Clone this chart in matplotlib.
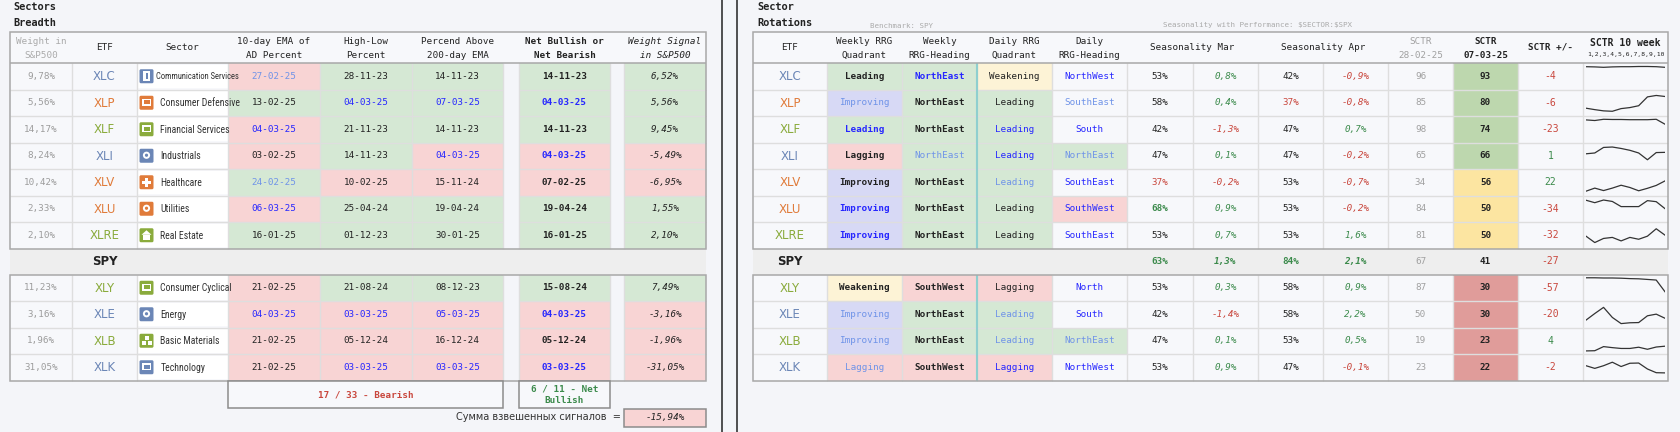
import matplotlib
matplotlib.use('Agg')
import matplotlib.pyplot as plt
from matplotlib.patches import Rectangle, FancyBboxPatch, Circle, Polygon
from matplotlib import font_manager
from matplotlib.font_manager import FontProperties

# ---------------- data ----------------
etfs = ['XLC', 'XLP', 'XLF', 'XLI', 'XLV', 'XLU', 'XLRE', 'XLY', 'XLE', 'XLB', 'XLK']
sectors = ['Communication Services', 'Consumer Defensive', 'Financial Services', 'Industrials',
           'Healthcare', 'Utilities', 'Real Estate', 'Consumer Cyclical', 'Energy',
           'Basic Materials', 'Technology']
weights = [9.78, 5.56, 14.17, 8.24, 10.42, 2.33, 2.10, 11.23, 3.16, 1.96, 31.05]

ema_dates = ['27-02-25', '13-02-25', '04-03-25', '03-02-25', '24-02-25', '06-03-25', '16-01-25',
             '21-02-25', '04-03-25', '21-02-25', '21-02-25']
ema_bull = [0, 1, 0, 0, 1, 0, 1, 0, 0, 0, 0]
hl_dates = ['28-11-23', '04-03-25', '21-11-23', '14-11-23', '10-02-25', '25-04-24', '01-12-23',
            '21-08-24', '03-03-25', '05-12-24', '03-03-25']
hl_bull = [1, 1, 1, 1, 0, 1, 1, 1, 0, 0, 0]
pa_dates = ['14-11-23', '07-03-25', '14-11-23', '04-03-25', '15-11-24', '19-04-24', '30-01-25',
            '08-12-23', '05-03-25', '16-12-24', '03-03-25']
pa_bull = [1, 1, 1, 0, 0, 1, 1, 1, 0, 0, 0]
net_dates = ['14-11-23', '04-03-25', '14-11-23', '04-03-25', '07-02-25', '19-04-24', '16-01-25',
             '15-08-24', '04-03-25', '05-12-24', '03-03-25']

weekly_quad = ['Leading', 'Improving', 'Leading', 'Lagging', 'Improving', 'Improving', 'Improving',
               'Weakening', 'Improving', 'Improving', 'Lagging']
weekly_head = ['NorthEast', 'NorthEast', 'NorthEast', 'NorthEast', 'NorthEast', 'NorthEast',
               'NorthEast', 'SouthWest', 'NorthEast', 'NorthEast', 'SouthWest']
daily_quad = ['Weakening', 'Leading', 'Leading', 'Leading', 'Leading', 'Leading', 'Leading',
              'Lagging', 'Leading', 'Leading', 'Lagging']
daily_head = ['NorthWest', 'SouthEast', 'South', 'NorthEast', 'SouthEast', 'SouthWest',
              'SouthEast', 'North', 'South', 'NorthEast', 'NorthWest']

mar_pct = [53, 58, 42, 47, 37, 68, 53, 53, 42, 47, 53]
mar_perf = [0.8, 0.4, -1.3, 0.1, -0.2, 0.9, 0.7, 0.3, -1.4, 0.1, 0.9]
apr_pct = [42, 37, 47, 47, 53, 53, 53, 58, 58, 53, 47]
apr_perf = [-0.9, -0.8, 0.7, -0.2, -0.7, -0.2, 1.6, 0.9, 2.2, 0.5, -0.1]
sctr_prev = [96, 85, 98, 65, 34, 84, 81, 87, 50, 19, 23]
sctr_now = [93, 80, 74, 66, 56, 50, 50, 30, 30, 23, 22]
sctr_diff = [-4, -6, -23, 1, 22, -34, -32, -57, -20, 4, -2]
spy_season = [63, 1.3, 84, 2.1]
spy_sctr = [67, 41, -27]

sctr_10w = [
    [96, 95, 93, 95, 96, 96, 97, 97, 96, 93],
    [23, 16, 10, 8, 21, 26, 35, 78, 85, 80],
    [95, 92, 98, 97, 97, 96, 96, 96, 98, 74],
    [59, 63, 90, 92, 85, 76, 63, 30, 65, 66],
    [6, 21, 9, 21, 35, 24, 8, 20, 34, 56],
    [91, 79, 92, 85, 60, 60, 60, 89, 84, 50],
    [45, 14, 34, 39, 22, 39, 30, 45, 81, 50],
    [98, 98, 97, 97, 96, 94, 93, 90, 87, 30],
    [21, 53, 83, 34, 4, 8, 9, 42, 50, 30],
    [0, 1, 21, 16, 12, 12, 18, 8, 19, 23],
    [57, 44, 57, 74, 53, 69, 70, 41, 23, 22],
]

# ---------------- styles ----------------
etf_colors = ['#6b86b6', '#e07b3a', '#8aab3c', '#6b86b6', '#e07b3a', '#e07b3a', '#8aab3c',
              '#8aab3c', '#6b86b6', '#8aab3c', '#6b86b6']
icon_glyph = ['card', 'rect', 'rect', 'circle', 'cross', 'circle', 'house', 'rect', 'circle',
              'blocks', 'rect']
wq_style = ['k', 'lb', 'b', 'k', 'k', 'b', 'b', 'k', 'lb', 'lb', 'lb']
wh_style = ['b', 'k', 'k', 'lb', 'k', 'k', 'k', 'k', 'k', 'k', 'k']
dq_style = ['k', 'k', 'b', 'b', 'lb', 'k', 'k', 'k', 'lb', 'lb', 'b']
dh_style = ['b', 'lb', 'b', 'lb', 'b', 'b', 'b', 'b', 'b', 'lb', 'b']

BG = '#f4f5f9'
CELL = '#f7f8fb'
GRID = '#dedede'
EDGE = '#a8a8a8'
G_BG, R_BG, Y_BG, P_BG = '#d5e8d4', '#f8d4d4', '#fdf3d6', '#d7d9f5'
BLACK, GREY = '#222222', '#9c9c9c'
BLUE, LBLUE = '#2626ff', '#6f93e8'
GREEN, RED = '#3b8a4b', '#c9473d'
TXT = {'k': BLACK, 'b': BLUE, 'lb': LBLUE}
QUAD_BG = {'Leading': G_BG, 'Improving': P_BG, 'Weakening': Y_BG, 'Lagging': R_BG}
HEAD_BG = {'NorthEast': G_BG, 'SouthWest': R_BG}

MONO = 'DejaVu Sans Mono'
SANS = 'DejaVu Sans'

# a condensed sans for sector names, if one is installed
narrow_fp, NSIZE = None, 5.9
prio = ['Liberation Sans Narrow', 'Roboto Condensed', 'Noto Sans', 'Roboto', 'Open Sans',
        'Liberation Sans', 'DejaVu Sans']
best = None
for f in font_manager.fontManager.ttflist:
    if 'condensed' in str(f.stretch) or 'Narrow' in f.name or 'Condensed' in f.name:
        if f.style == 'normal' and f.weight in (400, 'normal', 'regular') and \
                'extra' not in str(f.stretch) and 'ultra' not in str(f.stretch):
            rank = prio.index(f.name) if f.name in prio else len(prio)
            if best is None or rank < best[0]:
                best = (rank, f.fname)
if best is not None:
    narrow_fp, NSIZE = best[1], 7.0
FS = 6.7

fig = plt.figure(figsize=(16.8, 4.32), dpi=100, facecolor=BG)
ax = fig.add_axes([0, 0, 1, 1])
ax.set_xlim(0, 1680)
ax.set_ylim(432, 0)
ax.axis('off')

ROW_H = 26.5
SPY_TOP, SPY_BOT = 248.5, 274.5


def row_top(i):
    return 63 + i * ROW_H if i < 7 else SPY_BOT + (i - 7) * ROW_H


def rect(x0, y0, x1, y1, fc='none', ec='none', lw=0, z=2):
    ax.add_patch(Rectangle((x0, y0), x1 - x0, y1 - y0, facecolor=fc, edgecolor=ec,
                           linewidth=lw, zorder=z))


def txt(x, y, s, c=BLACK, size=FS, w='normal', st='normal', ha='center', fam=MONO):
    ax.text(x, y, s, color=c, fontsize=size, fontweight=w, fontstyle=st, ha=ha,
            va='center', family=fam, zorder=6)


def head(x, lines, **kw):
    if len(lines) == 1:
        txt(x, 47.5, lines[0], **kw)
    else:
        txt(x, 42, lines[0], **kw)
        txt(x, 55.5, lines[1], **kw)


def hline(y, x0, x1, c=GRID, lw=1.0, z=3):
    ax.plot([x0, x1], [y, y], color=c, lw=lw, zorder=z, solid_capstyle='butt')


def vline(x, y0, y1, c=GRID, lw=1.0, z=3):
    ax.plot([x, x], [y0, y1], color=c, lw=lw, zorder=z, solid_capstyle='butt')


def icon(x, yc, color, glyph):
    ax.add_patch(FancyBboxPatch((x, yc - 7), 14, 14, boxstyle='round,pad=0,rounding_size=1.5',
                                fc=color, ec='none', zorder=4))
    cxi = x + 7
    if glyph == 'cross':
        rect(cxi - 1.5, yc - 4.5, cxi + 1.5, yc + 4.5, fc='white', z=5)
        rect(cxi - 4.5, yc - 1.5, cxi + 4.5, yc + 1.5, fc='white', z=5)
    elif glyph == 'circle':
        ax.add_patch(Circle((cxi, yc - 0.5), 3.6, fc='white', ec='none', zorder=5))
        ax.add_patch(Circle((cxi, yc - 0.5), 1.6, fc=color, ec='none', zorder=5))
    elif glyph == 'house':
        ax.add_patch(Polygon([(cxi - 5, yc - 0.5), (cxi, yc - 5), (cxi + 5, yc - 0.5)],
                             fc='white', ec='none', zorder=5))
        rect(cxi - 3.5, yc - 0.5, cxi + 3.5, yc + 4.5, fc='white', z=5)
    elif glyph == 'blocks':
        for bx, by in [(-2, -5), (-5, 0), (1, 0)]:
            rect(cxi + bx, yc + by, cxi + bx + 4, yc + by + 4, fc='white', z=5)
    elif glyph == 'card':
        rect(cxi - 3.5, yc - 5, cxi + 3.5, yc + 5, fc='white', z=5)
        rect(cxi - 1, yc - 3, cxi + 1, yc + 3, fc=color, z=5)
    else:
        rect(cxi - 4.5, yc - 4, cxi + 4.5, yc + 3, fc='white', z=5)
        rect(cxi - 3, yc - 2.5, cxi + 3, yc + 1.5, fc=color, z=5)


def date_color(d):
    dd, mm, yy = (int(p) for p in d.split('-'))
    key = (yy, mm, dd)
    if key >= (25, 3, 3):
        return BLUE
    if key >= (25, 2, 24):
        return LBLUE
    return BLACK


def pct(v):
    return f'{v:.1f}'.replace('.', ',') + '%'


def pct2(v):
    return f'{v:.2f}'.replace('.', ',') + '%'


# ---------------- left panel: Sectors Breadth ----------------
txt(13, 7.5, 'Sectors', size=7.4, w='bold', ha='left')
txt(13, 22.5, 'Breadth', size=7.4, w='bold', ha='left')

L = [10, 72, 137, 228, 320, 412, 503]
NET = (519, 610)
SIG = (624, 706)

for y0, y1 in [(32, SPY_TOP), (SPY_BOT, 380.5)]:
    rect(10, y0, 706, y1, fc=CELL, z=1)
rect(10, SPY_TOP, 706, SPY_BOT, fc='#eeeeee', z=1)

head(41, ['Weight in', 'S&P500'], c='#aaaaaa')
head(104.5, ['ETF'])
head(182.5, ['Sector'])
head(274, ['10-day EMA of', 'AD Percent'])
head(366, ['High-Low', 'Percent'])
head(457.5, ['Percend Above', '200-day EMA'])
head(564.5, ['Net Bullish or', 'Net Bearish'], w='bold')
head(665, ['Weight Signal', 'in S&P500'], st='italic')

signals = []
for i in range(len(etfs)):
    y0 = row_top(i)
    y1 = y0 + ROW_H
    yc = (y0 + y1) / 2
    n_bull = ema_bull[i] + hl_bull[i] + pa_bull[i]
    bull = n_bull >= 2
    sig = round(weights[i] * (n_bull if bull else -(3 - n_bull)) / 3, 2)
    signals.append(sig)

    txt(41, yc, pct2(weights[i]), c=GREY)
    txt(104.5, yc + 0.5, etfs[i], c=etf_colors[i], size=8.5, fam=SANS)

    rect(137.5, y0 + 1.5, 228, y1 - 1.5, fc='white')
    icon(139.5, yc, etf_colors[i], icon_glyph[i])
    long_name = len(sectors[i]) > 20
    ssize = NSIZE * (0.88 if long_name else 1.0)
    sx = 156.5 if long_name else 160.5
    if narrow_fp:
        ax.text(sx, yc + 0.5, sectors[i], color='#333333', ha='left', va='center', zorder=6,
                fontproperties=FontProperties(fname=narrow_fp, size=ssize))
    else:
        txt(sx, yc + 0.5, sectors[i], c='#333333', size=ssize * (0.86 if long_name else 1.0),
            ha='left', fam='Liberation Sans')

    for (x0, x1), d, b in [((228, 320), ema_dates[i], ema_bull[i]),
                           ((320, 412), hl_dates[i], hl_bull[i]),
                           ((412, 503), pa_dates[i], pa_bull[i])]:
        rect(x0, y0, x1, y1, fc=G_BG if b else R_BG)
        txt((x0 + x1) / 2, yc, d, c=date_color(d))

    rect(NET[0], y0, NET[1], y1, fc=G_BG if bull else R_BG)
    txt(sum(NET) / 2, yc, net_dates[i], c=date_color(net_dates[i]), w='bold')
    rect(SIG[0], y0, SIG[1], y1, fc=G_BG if bull else R_BG)
    txt(sum(SIG) / 2, yc, pct2(sig), st='italic')

for y0, y1 in [(63, SPY_TOP), (SPY_BOT, 380.5)]:
    rect(503, y0, 519, y1, fc=BG, z=2)
    rect(610, y0, 624, y1, fc=BG, z=2)
    for x in L[1:] + [NET[0], NET[1], SIG[0]]:
        vline(x, y0, y1)
for i in list(range(1, 7)) + list(range(8, 11)):
    y = row_top(i)
    hline(y, 10, 503)
    hline(y, NET[0], NET[1])
    hline(y, SIG[0], SIG[1])
rect(10, 32, 706, SPY_TOP, ec=EDGE, lw=1.1, z=4)
hline(63, 10, 706, c=EDGE, lw=1.1, z=4)
rect(10, SPY_BOT, 706, 380.5, ec=EDGE, lw=1.1, z=4)
txt(104.5, (SPY_TOP + SPY_BOT) / 2, 'SPY', size=8.5, w='bold', fam=SANS)

n_cells = 3 * len(etfs)
n_bear = n_cells - sum(ema_bull) - sum(hl_bull) - sum(pa_bull)
n_net_bull = sum(1 for s in signals if s > 0)
rect(228, 380.5, 503, 408, fc=CELL, ec='#8c8c8c', lw=1.1, z=4)
txt(365.5, 394.5, f'{n_bear} / {n_cells} - Bearish', c=RED, w='bold')
rect(519, 380.5, 610, 408, fc=CELL, ec='#8c8c8c', lw=1.1, z=4)
txt(564.5, 389.5, f'{n_net_bull} / {len(etfs)} - Net', c=GREEN, w='bold')
txt(564.5, 400.5, 'Bullish', c=GREEN, w='bold')
total = sum(signals)
rect(624, 408.5, 706, 427, fc=R_BG if total < 0 else G_BG, ec='#8c8c8c', lw=1.1, z=4)
txt(665, 417.5, pct2(total), st='italic')
txt(621, 417.5, 'Сумма взвешенных сигналов  =', c='#333333', size=7, ha='right', fam=SANS)

# dividers
vline(722, 0, 432, c='#222222', lw=1.1, z=5)
vline(737, 0, 432, c='#222222', lw=1.1, z=5)

# ---------------- right panel: Sector Rotations ----------------
txt(757, 7.5, 'Sector', size=7.4, w='bold', ha='left')
txt(757, 22.5, 'Rotations', size=7.4, w='bold', ha='left')
txt(870, 25.5, 'Benchmark: SPY', c='#aaaaaa', size=5.4, ha='left')
txt(1352, 25.5, r'Seasonality with Performance: \$SECTOR:\$SPX', c='#aaaaaa', size=5.4, ha='right')

R = [753, 827, 902, 977, 1052, 1127, 1193, 1258, 1323, 1388, 1453, 1518, 1583, 1668]
cx = [(R[k] + R[k + 1]) / 2 for k in range(len(R) - 1)]

for y0, y1 in [(32, SPY_TOP), (SPY_BOT, 380.5)]:
    rect(753, y0, 1668, y1, fc=CELL, z=1)
rect(753, SPY_TOP, 1668, SPY_BOT, fc='#eeeeee', z=1)

head(cx[0], ['ETF'])
head(cx[1], ['Weekly RRG', 'Quadrant'])
head(cx[2], ['Weekly', 'RRG-Heading'])
head(cx[3], ['Daily RRG', 'Quadrant'])
head(cx[4], ['Daily', 'RRG-Heading'])
head((R[5] + R[7]) / 2, ['Seasonality Mar'])
head((R[7] + R[9]) / 2, ['Seasonality Apr'])
head(cx[9], ['SCTR', '28-02-25'], c='#a0a0a0')
head(cx[10], ['SCTR', '07-03-25'], w='bold')
head(cx[11], ['SCTR +/-'], w='bold')
txt(cx[12], 43.5, 'SCTR 10 week', w='bold', size=7)
txt(cx[12], 54.5, '1,2,3,4,5,6,7,8,9,10', size=4.6)


def pct_color(v):
    if v < 40:
        return RED, 'normal'
    if v >= 60:
        return GREEN, 'bold'
    return BLACK, 'normal'


def sctr_bg(v):
    if v >= 60:
        return '#bdd7ae'
    if v >= 40:
        return '#fce5a1'
    return '#e09c9a'


for i in range(len(etfs)):
    y0 = row_top(i)
    y1 = y0 + ROW_H
    yc = (y0 + y1) / 2
    txt(cx[0], yc + 0.5, etfs[i], c=etf_colors[i], size=8.5, fam=SANS)

    rect(R[1], y0, R[2], y1, fc=QUAD_BG[weekly_quad[i]])
    txt(cx[1], yc, weekly_quad[i], c=TXT[wq_style[i]], w='normal' if wq_style[i] == 'lb' else 'bold')
    rect(R[2], y0, R[3], y1, fc=HEAD_BG.get(weekly_head[i], CELL))
    txt(cx[2], yc, weekly_head[i], c=TXT[wh_style[i]], w='normal' if wh_style[i] == 'lb' else 'bold')
    rect(R[3], y0, R[4], y1, fc=QUAD_BG[daily_quad[i]])
    txt(cx[3], yc, daily_quad[i], c=TXT[dq_style[i]])
    rect(R[4], y0, R[5], y1, fc=HEAD_BG.get(daily_head[i], CELL))
    txt(cx[4], yc, daily_head[i], c=TXT[dh_style[i]])

    c, w = pct_color(mar_pct[i])
    txt(cx[5], yc, f'{mar_pct[i]}%', c=c, w=w)
    txt(cx[6], yc, pct(mar_perf[i]), c=GREEN if mar_perf[i] >= 0 else RED, st='italic')
    c, w = pct_color(apr_pct[i])
    txt(cx[7], yc, f'{apr_pct[i]}%', c=c, w=w)
    txt(cx[8], yc, pct(apr_perf[i]), c=GREEN if apr_perf[i] >= 0 else RED, st='italic')

    txt(cx[9], yc, str(sctr_prev[i]), c='#a0a0a0')
    rect(R[10], y0, R[11], y1, fc=sctr_bg(sctr_now[i]))
    txt(cx[10], yc, str(sctr_now[i]), w='bold')
    txt(cx[11], yc, str(sctr_diff[i]), c=GREEN if sctr_diff[i] > 0 else RED, size=7)

    sp = fig.add_axes([1586 / 1680, 1 - y1 / 432, 79 / 1680, ROW_H / 432])
    sp.plot(range(len(sctr_10w[i])), sctr_10w[i], color='#333333', lw=0.9)
    sp.set_xlim(0, len(sctr_10w[i]) - 1)
    sp.set_ylim(-15, 114)
    sp.axis('off')

ys = (SPY_TOP + SPY_BOT) / 2
txt(cx[0], ys, 'SPY', size=8.5, w='bold', fam=SANS)
c, w = pct_color(spy_season[0])
txt(cx[5], ys, f'{spy_season[0]}%', c=c, w=w)
txt(cx[6], ys, pct(spy_season[1]), c=GREEN, st='italic', w='bold')
c, w = pct_color(spy_season[2])
txt(cx[7], ys, f'{spy_season[2]}%', c=c, w=w)
txt(cx[8], ys, pct(spy_season[3]), c=GREEN, st='italic', w='bold')
txt(cx[9], ys, str(spy_sctr[0]), c='#a0a0a0')
txt(cx[10], ys, str(spy_sctr[1]), w='bold')
txt(cx[11], ys, str(spy_sctr[2]), c=RED, size=7)

for y0, y1 in [(63, SPY_TOP), (SPY_BOT, 380.5)]:
    for x in R[1:-1]:
        vline(x, y0, y1)
    vline(977, y0, y1, c='#8fcfcf', lw=1.5, z=4)
for i in list(range(1, 7)) + list(range(8, 11)):
    hline(row_top(i), 753, 1668)
rect(753, 32, 1668, SPY_TOP, ec=EDGE, lw=1.1, z=4)
hline(63, 753, 1668, c=EDGE, lw=1.1, z=4)
rect(753, SPY_BOT, 1668, 380.5, ec=EDGE, lw=1.1, z=4)

fig.savefig('out.png', dpi=100, facecolor=BG)
